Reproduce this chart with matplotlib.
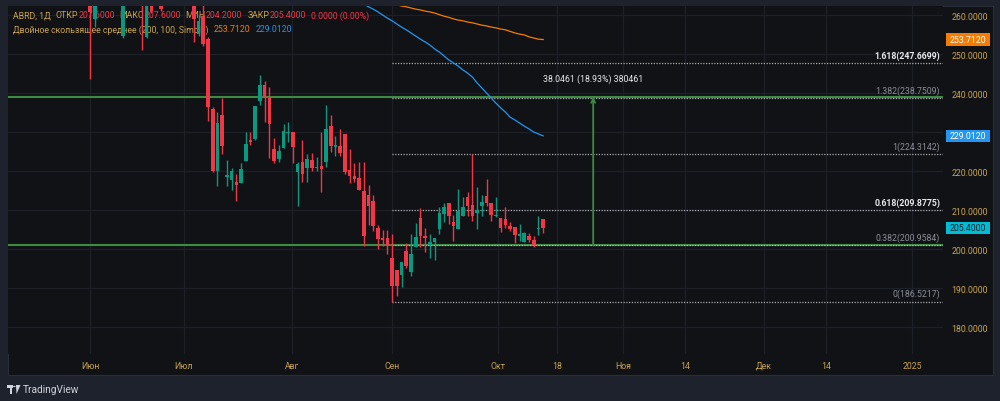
import matplotlib
matplotlib.use("Agg")
import matplotlib.pyplot as plt
import numpy as np
from matplotlib.patches import Rectangle, Circle, Polygon
from matplotlib.transforms import IdentityTransform, blended_transform_factory

plt.rcParams['font.family'] = ['Roboto', 'DejaVu Sans']

# ---------------- data ----------------
opens = [268.0, 259.0, 265.0, 268.0, 270.0, 268.0, 266.0, 254.6, 264.5, 267.0,
         265.0, 266.0, 254.4, 265.0, 262.8, 265.0, 263.0, 266.0, 268.0, 266.0,
         267.0, 265.0, 264.0, 255.1, 259.7, 253.8, 235.9, 220.0, 234.4, 218.5,
         217.7, 217.2, 216.9, 222.6, 227.9, 228.2, 237.9, 242.0, 238.7, 225.6,
         223.1, 225.9, 229.8, 230.0, 219.7, 222.3, 220.8, 222.8, 220.8, 221.3,
         222.3, 231.5, 226.2, 226.4, 229.5, 220.3, 218.7, 218.2, 214.9, 213.8,
         212.3, 205.4, 202.8, 202.8, 197.7, 194.6, 193.3, 199.5, 194.1, 200.5,
         207.9, 203.3, 201.0, 201.8, 205.1, 209.0, 211.8, 206.9, 205.1, 208.5,
         213.3, 211.3, 209.2, 211.0, 213.6, 211.8, 208.5, 207.9, 207.7, 205.9,
         205.6, 203.3, 201.8, 203.3, 202.3, 205.1, 207.6]
highs = [270.0, 266.0, 270.0, 272.0, 274.0, 271.0, 269.0, 266.0, 268.0, 270.0,
         268.0, 268.0, 267.0, 267.0, 266.0, 267.0, 267.0, 270.0, 271.0, 269.0,
         270.0, 268.0, 266.0, 260.0, 263.0, 254.4, 236.4, 235.1, 238.7, 222.8,
         220.8, 219.2, 222.1, 230.0, 230.0, 236.7, 244.6, 243.1, 241.5, 228.5,
         226.7, 232.1, 232.6, 230.0, 222.3, 227.9, 224.4, 224.6, 223.6, 230.0,
         236.9, 234.4, 229.0, 230.8, 229.5, 225.6, 222.1, 222.3, 222.3, 216.4,
         213.8, 206.2, 204.9, 204.9, 203.8, 194.6, 196.7, 201.5, 203.8, 206.7,
         210.5, 205.4, 203.8, 202.8, 210.8, 211.8, 211.8, 208.7, 215.4, 213.3,
         214.6, 224.3142, 215.9, 213.8, 217.9, 211.8, 213.3, 207.9, 210.8, 206.9,
         205.6, 206.4, 204.4, 204.1, 203.3, 208.5, 207.6]
lows = [243.6, 256.9, 263.5, 265.0, 267.0, 264.0, 263.0, 254.0, 263.0, 264.0,
        263.0, 251.0, 254.0, 260.5, 262.6, 261.0, 262.8, 264.0, 265.0, 263.5,
        264.0, 263.0, 253.1, 254.6, 252.0, 232.8, 219.8, 216.2, 224.4, 216.2,
        215.1, 212.3, 216.9, 222.6, 226.7, 227.9, 236.9, 232.6, 223.3, 222.1,
        222.3, 225.9, 227.4, 222.1, 211.0, 217.2, 217.2, 220.0, 220.0, 214.6,
        221.0, 224.9, 223.8, 223.8, 219.2, 216.9, 217.2, 215.1, 200.8, 206.2,
        204.6, 200.0, 200.8, 198.7, 186.5217, 187.9, 190.3, 195.1, 193.1, 200.5,
        200.5, 199.2, 197.7, 197.2, 203.8, 206.9, 206.4, 202.1, 205.1, 208.5,
        208.5, 207.2, 205.1, 208.5, 211.0, 207.2, 208.2, 204.4, 205.4, 204.6,
        201.5, 202.1, 201.8, 201.8, 200.5, 203.6, 204.2]
closes = [260.8, 264.5, 268.0, 270.0, 268.0, 266.0, 264.0, 264.5, 267.0, 265.0,
          266.0, 263.5, 265.0, 261.0, 265.0, 261.5, 266.0, 268.0, 266.0, 267.0,
          265.0, 264.0, 259.0, 258.5, 252.6, 236.4, 220.0, 232.3, 226.4, 219.0,
          220.0, 216.4, 220.5, 226.9, 227.4, 236.7, 242.0, 238.7, 232.1, 222.6,
          225.1, 230.3, 230.0, 226.2, 221.8, 219.2, 223.1, 220.8, 221.0, 220.5,
          230.8, 226.4, 226.7, 224.6, 219.7, 218.7, 217.9, 215.1, 203.3, 211.0,
          205.9, 202.6, 202.3, 200.8, 190.5, 190.5, 196.7, 195.6, 198.7, 203.1,
          203.3, 202.8, 201.8, 202.8, 209.2, 210.8, 208.5, 205.9, 209.7, 210.8,
          211.0, 208.5, 210.0, 212.1, 211.8, 208.7, 208.7, 205.4, 206.2, 205.1,
          203.6, 203.8, 204.1, 202.3, 201.0, 205.4, 205.4]

ma100_start = 58
ma100 = [262.8, 262.1, 261.5, 260.8, 260.0, 259.2, 258.5, 257.7, 256.9, 256.2,
         255.4, 254.6, 253.8, 253.1, 252.3, 251.3, 250.5, 249.5, 248.5, 247.7,
         246.9, 245.9, 245.1, 244.1, 242.6, 241.3, 240.0, 238.7, 237.4, 236.2,
         235.1, 233.8, 233.1, 232.3, 231.5, 230.8, 230.0, 229.5, 229.012]
ma200_start = 64
ma200 = [262.8, 262.6, 262.3, 262.1, 261.8, 261.5, 261.3, 261.0, 260.8, 260.5,
         260.1, 259.7, 259.4, 259.0, 258.7, 258.5, 258.2, 258.0, 257.7, 257.4,
         257.2, 256.9, 256.7, 256.4, 256.2, 255.8, 255.4, 255.1, 254.9, 254.4,
         254.1, 253.8, 253.712]

tick_labels = ['Июн', 'Июл', 'Авг', 'Сен', 'Окт', '18', 'Ноя', '14', 'Дек', '14', '2025']
tick_pos = [0, 19.9, 42.8, 64.0, 86.4, 99.0, 112.9, 126.1, 142.8, 155.9, 174.2]

fib_ratios = ['0', '0.382', '0.618', '1', '1.382', '1.618']
fib_values = [186.5217, 200.9584, 209.8775, 224.3142, 238.7509, 247.6699]
fib_start = 64
green_levels = [200.9584, 239.0045]
measure_x = 106.6
measure_from = 200.9584
measure_delta = 38.0461
measure_pct = 18.93

last_close = 205.4
legend_vals = ['207.6000', '207.6000', '204.2000', '205.4000', '0.0000 (0.00%)']

# ---------------- style ----------------
BG_OUT = '#1e222d'
BG_PANEL = '#111216'
GRID = '#1d2027'
GOLD = '#c9a44e'
RED = '#f23645'
TEAL = '#089981'
ORANGE = '#f57c00'
BLUE = '#2196f3'
CYAN = '#00bcd4'
GREEN = '#3d8b40'
GREYTXT = '#8b8e96'

W, H = 1000, 402
fig = plt.figure(figsize=(W / 100, H / 100), dpi=100, facecolor=BG_OUT)
fig.add_artist(Rectangle((8 / W, 26 / H), 985 / W, 369 / H, transform=fig.transFigure,
                         facecolor=BG_PANEL, edgecolor='#2a2e39', lw=0.8, zorder=-5))
ax = fig.add_axes([8 / W, 47 / H, 935 / W, 348 / H])
ax.set_facecolor(BG_PANEL)
for s in ax.spines.values():
    s.set_visible(False)
ax.set_xlim(-17.37, 180.7)
ax.set_ylim(173.08, 262.31)

ax.yaxis.tick_right()
yt = np.arange(180, 261, 10)
ax.set_yticks(yt, [f'{v:.4f}' for v in yt])
ax.tick_params(axis='y', length=0, pad=6, labelsize=6.3, labelcolor=GOLD)
ax.set_xticks(tick_pos, tick_labels)
ax.tick_params(axis='x', length=0, pad=5, labelsize=6.3, labelcolor=GOLD)
ax.grid(True, color=GRID, lw=0.9)
ax.set_axisbelow(True)

# candles
o, h, l, c = (np.array(a) for a in (opens, highs, lows, closes))
idx = np.arange(len(o))
cols = np.where(c >= o, TEAL, RED)
ax.vlines(idx, l, h, colors=cols, lw=1.0, zorder=4)
ax.bar(idx, np.maximum(np.abs(c - o), 0.3), bottom=np.minimum(o, c), width=0.76,
       color=cols, linewidth=0, zorder=5)

# moving averages
ax.plot(np.arange(ma100_start, ma100_start + len(ma100)), ma100, color=BLUE, lw=0.9, zorder=6)
ax.plot(np.arange(ma200_start, ma200_start + len(ma200)), ma200, color=ORANGE, lw=0.9, zorder=6)

# green horizontal lines
for g in green_levels:
    ax.axhline(g, color=GREEN, lw=1.5, zorder=3)

# fib levels
xr = ax.get_xlim()[1]
for r, v in zip(fib_ratios, fib_values):
    ax.plot([fib_start, xr], [v, v], color='#c4c6cc', lw=0.9, ls=(0, (1, 1.2)), zorder=3.5, alpha=0.85)
    bright = r in ('1.618', '0.618')
    ax.text(180.1, v + 0.8, f'{r}({v:.4f})', ha='right', va='bottom', fontsize=6.3,
            color='#e8e9ec' if bright else GREYTXT, fontweight='bold' if bright else 'normal', zorder=7)

# measure arrow
ax.annotate('', xy=(measure_x, measure_from + measure_delta), xytext=(measure_x, measure_from),
            arrowprops=dict(arrowstyle='->', color=GREEN, lw=1.3, mutation_scale=7,
                            shrinkA=0, shrinkB=0), zorder=7)
ax.text(measure_x, measure_from + measure_delta + 3.6,
        f'{measure_delta:.4f} ({measure_pct:.2f}%) {str(measure_delta).replace(".", "")}',
        ha='center', va='bottom', fontsize=6.3, color='#e8e9ec', zorder=7)

# price tags on right axis
tb = blended_transform_factory(IdentityTransform(), ax.transData)
for val, bg, fg in [(ma200[-1], ORANGE, 'white'), (ma100[-1], BLUE, 'white'), (last_close, CYAN, '#10222a')]:
    ax.add_patch(Rectangle((946, val - 1.55), 44, 3.1, transform=tb, facecolor=bg,
                           edgecolor='none', clip_on=False, zorder=10))
    ax.text(968, val, f'{val:.4f}', transform=tb, ha='center', va='center', fontsize=6.3,
            color=fg, zorder=11, clip_on=False)

# legend texts
fig.canvas.draw()
renderer = fig.canvas.get_renderer()


def chain(x, y, pieces, size=6.3):
    for s, col, gap in pieces:
        t = ax.text(x, H - y, s, color=col, fontsize=size, transform=IdentityTransform(),
                    va='center', ha='left', zorder=2)
        x += t.get_window_extent(renderer).width + gap


chain(13, 16, [('ABRD, 1Д', GOLD, 5), ('ОТКР', GOLD, 0), (legend_vals[0], RED, 5),
               ('МАКС', GOLD, 0), (legend_vals[1], RED, 5), ('МИН', GOLD, 0),
               (legend_vals[2], RED, 5), ('ЗАКР', GOLD, 0), (legend_vals[3], RED, 5),
               (legend_vals[4], RED, 0)])
chain(13, 30, [('Двойное скользящее среднее (200, 100, Simple)', GOLD, 5),
               (f'{ma200[-1]:.4f}', ORANGE, 5), (f'{ma100[-1]:.4f}', BLUE, 0)])

# TradingView logo
LOGO = '#d1d4dc'
fig.add_artist(Rectangle((7 / W, (H - 389) / H), 6 / W, 3 / H, transform=fig.transFigure, fc=LOGO, ec='none'))
fig.add_artist(Rectangle((9.5 / W, (H - 395) / H), 2.6 / W, 8 / H, transform=fig.transFigure, fc=LOGO, ec='none'))
fig.add_artist(Circle((14.3 / W, (H - 387.5) / H), 1.4 / W, transform=fig.transFigure, fc=LOGO, ec='none'))
fig.add_artist(Polygon([[16 / W, (H - 386) / H], [20.5 / W, (H - 386) / H], [16.5 / W, (H - 395) / H]],
                       closed=True, transform=fig.transFigure, fc=LOGO, ec='none'))
fig.text(23 / W, (H - 390.5) / H, 'TradingView', color=LOGO, fontsize=7.3, va='center', ha='left')

fig.savefig('out.png', dpi=100, facecolor=BG_OUT)
